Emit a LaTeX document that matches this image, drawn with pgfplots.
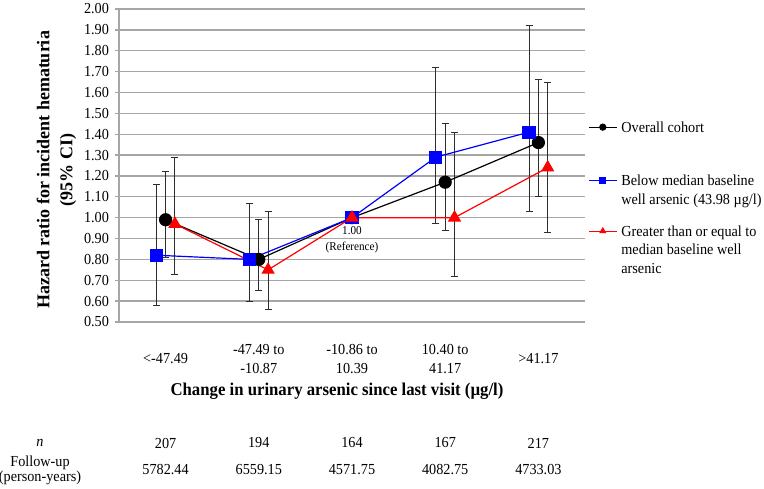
\documentclass[border=0pt]{standalone}
\usepackage{pgfplots}
\usepackage{pgfplotstable}
\pgfplotsset{compat=1.18}
\usepackage{fontspec}
\setmainfont{Liberation Serif}[FakeStretch=0.93]
\newfontfamily\ylabfont{Liberation Serif}
\definecolor{gridgray}{RGB}{166,166,166}
\definecolor{myblue}{RGB}{0,0,255}
\definecolor{myred}{RGB}{255,0,0}
\definecolor{ebar}{RGB}{45,45,45}

\pgfplotstableread{
x y
1 0.99
2 0.80
3 1.00
4 1.17
5 1.36
}\blackline
\pgfplotstableread{
x y lo hi
1 0.99 0.81 1.22
2 0.80 0.65 0.99
4 1.17 0.94 1.45
5 1.36 1.10 1.66
}\blackerr
\pgfplotstableread{
x y
0.9 0.82
1.9 0.80
3.0 1.00
3.9 1.29
4.9 1.41
}\blueline
\pgfplotstableread{
x y lo hi
0.9 0.82 0.58 1.16
1.9 0.80 0.60 1.07
3.9 1.29 0.97 1.72
4.9 1.41 1.03 1.92
}\blueerr
\pgfplotstableread{
x y
1.1 0.97
2.1 0.75
3.0 1.00
4.1 1.00
5.1 1.24
}\redline
\pgfplotstableread{
x y lo hi
1.1 0.97 0.73 1.29
2.1 0.75 0.56 1.03
4.1 1.00 0.72 1.41
5.1 1.24 0.93 1.65
}\rederr

\newcommand{\fs}{\fontsize{15.3}{18.5}\selectfont}

\begin{document}
\begin{tikzpicture}[x=1pt,y=1pt]
\path[use as bounding box] (0,0) rectangle (764,489);
\begin{axis}[
  at={(119pt,167pt)}, anchor=south west,
  scale only axis, width=466pt, height=313pt,
  xmin=0.5, xmax=5.5, ymin=0.5, ymax=2.0,
  clip=false,
  axis x line*=bottom, axis y line*=left,
  axis line style={gridgray, line width=1.3pt},
  ytick={0.5,0.6,0.7,0.8,0.9,1.0,1.1,1.2,1.3,1.4,1.5,1.6,1.7,1.8,1.9,2.0},
  yticklabel style={/pgf/number format/fixed, /pgf/number format/fixed zerofill, /pgf/number format/precision=2, xshift=-2.5pt},
  /pgf/number format/assume math mode=true,
  ymajorgrids, grid style={gridgray, line width=1.3pt},
  ytick style={gridgray, line width=1.3pt},
  tick align=outside, major tick length=4pt,
  xtick={1,2,3,4,5},
  xtick style={draw=none},
  xticklabels={{<-47.49}, {-47.49 to\\-10.87}, {-10.86 to\\10.39}, {10.40 to\\41.17}, {>41.17}},
  xticklabel style={align=center, anchor=center, yshift=-33pt},
  tick label style={font=\fs},
  xlabel={Change in urinary arsenic since last visit (µg/l)},
  xlabel style={at={([xshift=-15pt,yshift=-69pt]axis description cs:0.5,0)}, anchor=center, font=\fontsize{18}{21}\selectfont\bfseries},
  ylabel={Hazard ratio for incident hematuria\\(95\% CI)},
  ylabel style={at={([xshift=-62.5pt,yshift=-4.5pt]axis description cs:0,0.5)}, anchor=center, align=center, font=\ylabfont\fontsize{18}{23}\selectfont\bfseries},
  legend style={draw=none, fill=none, at={([xshift=3pt,yshift=-108pt]axis description cs:1,1)}, anchor=north west, row sep=9pt, column sep=2pt, inner sep=0pt, nodes={inner sep=2pt}, cells={anchor=base west}, font=\fs},
  legend image code/.code={\draw[mark repeat=2, mark phase=2, #1, mark size=3pt, yshift=5pt] plot coordinates {(0pt,0pt) (14pt,0pt) (28pt,0pt)};},
]
% error bars
\addplot[forget plot, only marks, mark=none, error bars/.cd, y dir=both, y explicit,
  error bar style={ebar, line width=0.9pt},
  error mark options={rotate=90, ebar, mark size=3.5pt, line width=0.9pt}]
  table[x=x, y=y, y error plus expr=\thisrow{hi}-\thisrow{y}, y error minus expr=\thisrow{y}-\thisrow{lo}] {\blueerr};
\addplot[forget plot, only marks, mark=none, error bars/.cd, y dir=both, y explicit,
  error bar style={ebar, line width=0.9pt},
  error mark options={rotate=90, ebar, mark size=3.5pt, line width=0.9pt}]
  table[x=x, y=y, y error plus expr=\thisrow{hi}-\thisrow{y}, y error minus expr=\thisrow{y}-\thisrow{lo}] {\blackerr};
\addplot[forget plot, only marks, mark=none, error bars/.cd, y dir=both, y explicit,
  error bar style={ebar, line width=0.9pt},
  error mark options={rotate=90, ebar, mark size=3.5pt, line width=0.9pt}]
  table[x=x, y=y, y error plus expr=\thisrow{hi}-\thisrow{y}, y error minus expr=\thisrow{y}-\thisrow{lo}] {\rederr};
% lines
\addplot[black, line width=1.2pt, mark=*, mark size=6pt, mark options={solid}] table[x=x,y=y] {\blackline};
\addlegendentry{\begin{tabular}[t]{@{}l@{}}Overall cohort\end{tabular}}
\addplot[myblue, line width=1.2pt, mark=square*, mark size=6pt, mark options={solid}] table[x=x,y=y] {\blueline};
\addlegendentry{\begin{tabular}[t]{@{}l@{}}\rule{0pt}{39pt}Below median baseline\\well arsenic (43.98 µg/l)\end{tabular}}
\addplot[myred, line width=1.2pt, mark=triangle*, mark size=6.5pt, mark options={solid}] table[x=x,y=y] {\redline};
\addlegendentry{\begin{tabular}[t]{@{}l@{}}\rule{0pt}{36pt}Greater than or equal to\\median baseline well\\arsenic\end{tabular}}

% reference annotation
\node[font=\fontsize{12}{16}\selectfont, align=center] at ([yshift=-22pt]axis cs:3,1) {1.00\\(Reference)};

% table below
\node[font=\fs] at ([xshift=-79pt,yshift=-121pt]axis cs:0.5,0.5) {\textit{n}};
\node[font=\fontsize{15.3}{15}\selectfont, align=center] at ([xshift=-79pt,yshift=-148pt]axis cs:0.5,0.5) {Follow-up\\(person-years)};
\node[font=\fs] at ([yshift=-121pt]axis cs:1,0.5) {207};
\node[font=\fs] at ([yshift=-121pt]axis cs:2,0.5) {194};
\node[font=\fs] at ([yshift=-121pt]axis cs:3,0.5) {164};
\node[font=\fs] at ([yshift=-121pt]axis cs:4,0.5) {167};
\node[font=\fs] at ([yshift=-121pt]axis cs:5,0.5) {217};
\node[font=\fs] at ([yshift=-148pt]axis cs:1,0.5) {5782.44};
\node[font=\fs] at ([yshift=-148pt]axis cs:2,0.5) {6559.15};
\node[font=\fs] at ([yshift=-148pt]axis cs:3,0.5) {4571.75};
\node[font=\fs] at ([yshift=-148pt]axis cs:4,0.5) {4082.75};
\node[font=\fs] at ([yshift=-148pt]axis cs:5,0.5) {4733.03};
\end{axis}
\end{tikzpicture}
\end{document}
